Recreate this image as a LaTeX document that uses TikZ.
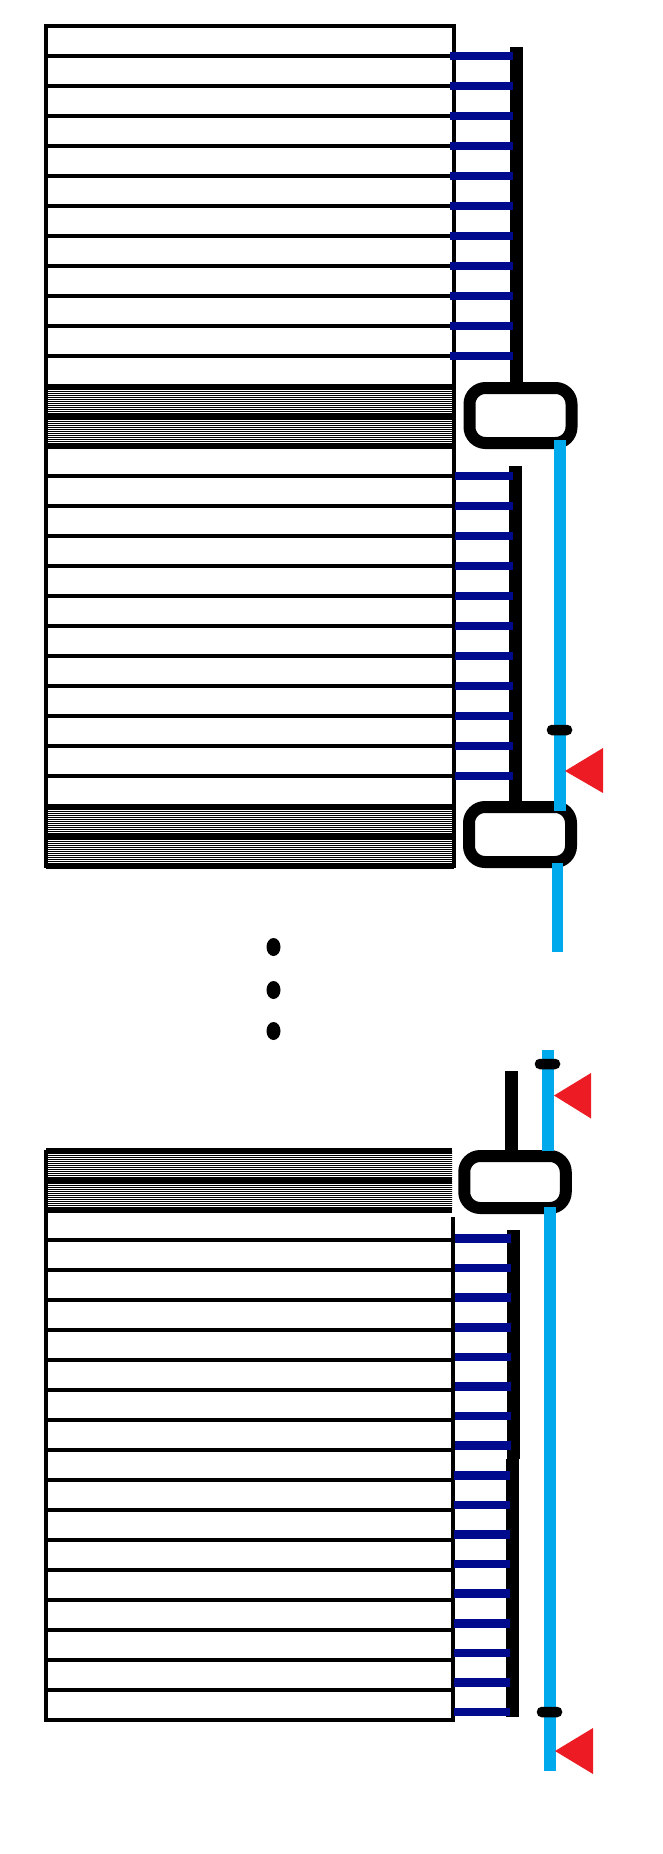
\documentclass[tikz,border=0pt]{standalone}
\usetikzlibrary{positioning,patterns.meta,shapes.geometric}
\definecolor{stubblau}{RGB}{0,10,140}
\definecolor{hellblau}{RGB}{0,168,236}
\definecolor{rot}{RGB}{237,28,36}

\begin{document}
\begin{tikzpicture}[x=1pt,y=-1pt]
\useasboundingbox (0,0) rectangle (663,1854);

% 1. Stile definieren
\tikzset{
  zeile/.style={draw=black, line width=3.2pt},
  schraffur/.style={pattern={Lines[angle=0,distance=2pt,line width=1pt]}},
  trenner/.style={draw=black, line width=5pt},
  stummel/.style={draw=stubblau, line width=8.5pt},
  balken/.style={draw=black, line width=12.5pt},
  kabel/.style={draw=hellblau, line width=11.5pt},
  kapsel/.style={draw=black, line width=12pt, fill=white, rounded corners=16pt,
    minimum width=102pt, minimum height=55pt, inner sep=0pt},
  klemme/.style={rectangle, fill=black, rounded corners=5pt, minimum width=25.5pt, minimum height=10.5pt, inner sep=0pt},
  punkt/.style={ellipse, fill=black, minimum width=14pt, minimum height=18pt, inner sep=0pt},
  marke/.style={fill=rot}
}

% 2. Koordinaten
\coordinate (b1) at (516.5,47);
\coordinate (b2) at (515.5,466);
\coordinate (b3) at (511.5,1071);
\coordinate (b4) at (513.5,1230);
\coordinate (b44) at (513.5,1459);
\coordinate (b5) at (512.5,1459);
\coordinate (b55) at (512.5,1717);

\coordinate (h1) at (560,440);
\coordinate (h11) at (560,811);
\coordinate (h2) at (557.5,863);
\coordinate (h22) at (557.5,952);
\coordinate (h3) at (548,1050);
\coordinate (h33) at (548,1151);
\coordinate (h4) at (550,1207);
\coordinate (h44) at (550,1771);

% 3. Oberer Block
\foreach \y in {386,416,806,836}
  \fill[schraffur] (46,\y) rectangle (454,\y+30);
\draw[zeile] (46,26) rectangle (454,866);
\foreach \i in {1,...,27}
  \draw[zeile] (46,{26+30*\i}) -- (454,{26+30*\i});
\foreach \y in {386,416,446,806,836,866}
  \draw[trenner] (46,\y) -- (454,\y);

% 4. Unterer Block
\foreach \y in {1150,1180}
  \fill[schraffur] (46,\y) rectangle (452,\y+30);
\draw[zeile] (453,1217) -- (453,1720) -- (46,1720) -- (46,1150);
\foreach \i in {3,...,18}
  \draw[zeile] (46,{1150+30*\i}) -- (453,{1150+30*\i});
\foreach \y in {1150,1180,1210}
  \draw[trenner] (46,\y) -- (452,\y);

% 5. Kapseln und Balken
\node[kapsel] (k1) at (520.5,415.5) {};
\node[kapsel] (k2) at (520,834.5) {};
\node[kapsel, minimum width=101.5pt, minimum height=52pt] (k3) at (515,1182) {};

\draw[balken] (b1) -- (b1 |- k1.north);
\draw[balken] (b2) -- (b2 |- k2.north);
\draw[balken] (b3) -- (b3 |- k3.north);
\draw[balken] (b4) -- (b44);
\draw[balken] (b5) -- (b55);

% 6. Stummel
\foreach \i in {1,...,11}
  \draw[stummel] (450,{26+30*\i}) -- (513,{26+30*\i});
\foreach \i in {15,...,25}
  \draw[stummel] (455,{26+30*\i}) -- (513,{26+30*\i});
\foreach \i in {0,...,7}
  \draw[stummel] (455,{1238.5+29.6*\i}) -- (511,{1238.5+29.6*\i});
\foreach \i in {8,...,16}
  \draw[stummel] (454,{1238.5+29.6*\i}) -- (510,{1238.5+29.6*\i});

% 7. Kabel, Klemmen, Marken
\draw[kabel] (h1) -- (h11);
\draw[kabel] (h2) -- (h22);
\draw[kabel] (h3) -- (h33);
\draw[kabel] (h4) -- (h44);

\node[klemme] (e1) at (559.5,730) {};
\node[klemme] (e2) at (547.5,1064) {};
\node[klemme] (e3) at (549.5,1712) {};

\fill[marke] (565,771) -- (603,748) -- (603,793) -- cycle;
\fill[marke] (554,1095.5) -- (591,1073) -- (591,1118.5) -- cycle;
\fill[marke] (555,1751) -- (593,1728) -- (593,1774) -- cycle;

% 8. Punkte
\node[punkt] (p1) at (273.5,947) {};
\node[punkt] (p2) at (273.5,990) {};
\node[punkt] (p3) at (273.5,1031) {};

\end{tikzpicture}
\end{document}
